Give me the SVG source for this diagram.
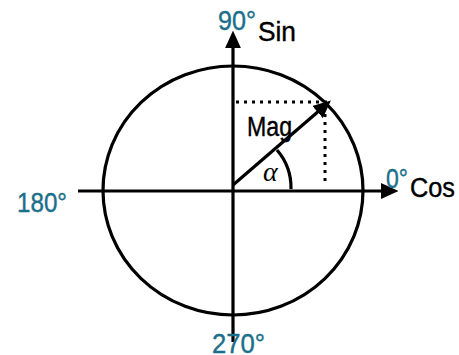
<svg xmlns="http://www.w3.org/2000/svg" width="459" height="355" viewBox="0 0 459 355">
<defs>
<style>
.ax{stroke:#000;stroke-width:3.2;fill:none}
.dot{stroke:#000;stroke-width:3;fill:none;stroke-dasharray:3 5}
.deg{font-family:"Liberation Sans",Arial,sans-serif;font-size:27px;fill:#1b6f8a;stroke:#1b6f8a;stroke-width:0.4}
.lbl{font-family:"Liberation Sans",Arial,sans-serif;font-size:27px;fill:#000;stroke:#000;stroke-width:0.4}
</style>
<marker id="ah" markerWidth="5.5" markerHeight="5" refX="1" refY="2.5" orient="auto" markerUnits="strokeWidth">
<path d="M0,0 L5.5,2.5 L0,5 Z" fill="#000"/>
</marker>
</defs>
<rect width="459" height="355" fill="#fff"/>
<g id="circle"><ellipse cx="233" cy="190.5" rx="130" ry="124.5" class="ax"/></g>
<g id="connectors">
<line x1="78" y1="191" x2="384" y2="191" class="ax" marker-end="url(#ah)"/>
<line x1="233" y1="342" x2="233" y2="45" class="ax" marker-end="url(#ah)"/>
<line x1="233" y1="185" x2="320" y2="110" class="ax" marker-end="url(#ah)"/>
<line x1="236" y1="102" x2="328" y2="102" class="dot"/>
<line x1="325" y1="106" x2="325" y2="186" class="dot"/>
<path d="M291,189 A58,58 0 0 0 277,150" class="ax"/>
</g>
<g id="labels">
<text x="218" y="30" class="deg" textLength="38" lengthAdjust="spacingAndGlyphs">90°</text>
<text x="258" y="41" class="lbl" textLength="38" lengthAdjust="spacingAndGlyphs">Sin</text>
<text x="386" y="188" class="deg" textLength="22" lengthAdjust="spacingAndGlyphs">0°</text>
<text x="410" y="197" class="lbl" textLength="45" lengthAdjust="spacingAndGlyphs">Cos</text>
<text x="17" y="212" class="deg" textLength="50" lengthAdjust="spacingAndGlyphs">180°</text>
<text x="212" y="353" class="deg" textLength="53" lengthAdjust="spacingAndGlyphs">270°</text>
<text x="247" y="136" class="lbl" font-size="25" textLength="45" lengthAdjust="spacingAndGlyphs">Mag</text>
<text x="263" y="181" font-family="Liberation Serif,serif" font-style="italic" font-size="28" fill="#000">α</text>
</g>
</svg>
